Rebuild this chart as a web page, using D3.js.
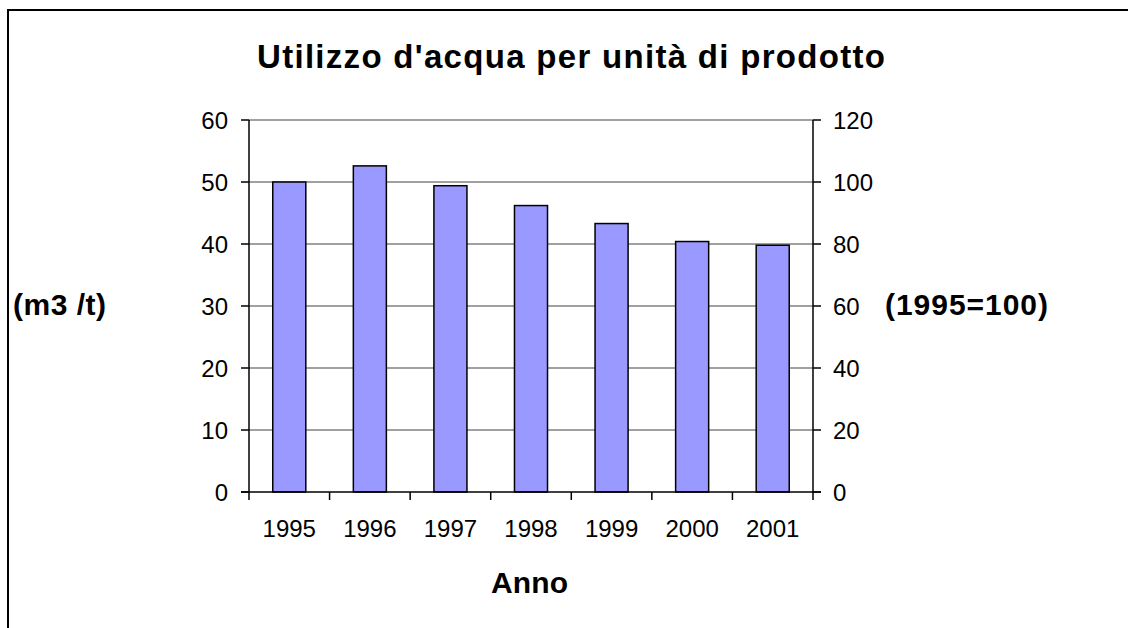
<!DOCTYPE html>
<html><head><meta charset="utf-8">
<script src="https://cdn.jsdelivr.net/npm/d3@7"></script>
<style>body{margin:0;background:#fff;} svg{display:block;font-family:"Liberation Sans",Arial,sans-serif;}</style>
</head><body>
<svg id="c" width="1128" height="628"></svg>
<script>
const years = ["1995","1996","1997","1998","1999","2000","2001"];
const values = [50, 52.6, 49.4, 46.2, 43.3, 40.4, 39.8];
const leftTicks = [0,10,20,30,40,50,60];
const rightTicks = [0,20,40,60,80,100,120];

const svg = d3.select("#c");
svg.append("rect").attr("x",8).attr("y",10).attr("width",1130).attr("height",630)
  .attr("fill","none").attr("stroke","#000").attr("stroke-width",2);

const L=249, R=813, T=120, B=492;
const x = d3.scaleBand().domain(years).range([L,R]).paddingInner(0.59).paddingOuter(0.295);
const y = d3.scaleLinear().domain([0,60]).range([B,T]);
const y2 = d3.scaleLinear().domain([0,120]).range([B,T]);

// gridlines
svg.append("g").selectAll("line").data(leftTicks.filter(d=>d>0)).join("line")
  .attr("x1",L).attr("x2",R).attr("y1",d=>y(d)).attr("y2",d=>y(d))
  .attr("stroke","#808080").attr("stroke-width",1.5);

// bars
svg.append("g").selectAll("rect").data(values).join("rect")
  .attr("x",(d,i)=>x(years[i])).attr("width",x.bandwidth())
  .attr("y",d=>y(d)).attr("height",d=>B-y(d))
  .attr("fill","#9999FF").attr("stroke","#000").attr("stroke-width",1.5);

// left axis
const ax = svg.append("g");
ax.append("line").attr("x1",L).attr("x2",L).attr("y1",T).attr("y2",B).attr("stroke","#000").attr("stroke-width",1.5);
ax.selectAll("line.t").data(leftTicks).join("line").attr("class","t")
  .attr("x1",L-8).attr("x2",L).attr("y1",d=>y(d)).attr("y2",d=>y(d)).attr("stroke","#000").attr("stroke-width",1.5);
ax.selectAll("text").data(leftTicks).join("text")
  .attr("x",L-21).attr("y",d=>y(d)+8.5).attr("text-anchor","end").attr("font-size",24).text(d=>d);

// right axis
const ar = svg.append("g");
ar.append("line").attr("x1",R).attr("x2",R).attr("y1",T).attr("y2",B).attr("stroke","#000").attr("stroke-width",1.5);
ar.selectAll("line.t").data(rightTicks).join("line").attr("class","t")
  .attr("x1",R).attr("x2",R+8).attr("y1",d=>y2(d)).attr("y2",d=>y2(d)).attr("stroke","#000").attr("stroke-width",1.5);
ar.selectAll("text").data(rightTicks).join("text")
  .attr("x",R+20).attr("y",d=>y2(d)+8.5).attr("text-anchor","start").attr("font-size",24).text(d=>d);

// bottom axis
const ab = svg.append("g");
ab.append("line").attr("x1",L-8).attr("x2",R+8).attr("y1",B).attr("y2",B).attr("stroke","#000").attr("stroke-width",1.5);
const step = (R-L)/years.length;
ab.selectAll("line.t").data(d3.range(years.length+1)).join("line").attr("class","t")
  .attr("x1",i=>L+i*step).attr("x2",i=>L+i*step).attr("y1",B).attr("y2",B+8).attr("stroke","#000").attr("stroke-width",1.5);
ab.selectAll("text").data(years).join("text")
  .attr("x",d=>x(d)+x.bandwidth()/2).attr("y",537).attr("text-anchor","middle").attr("font-size",24).text(d=>d);

// titles
svg.append("text").attr("x",257).attr("y",68).attr("font-size",33).attr("font-weight","bold")
  .attr("textLength",628).attr("lengthAdjust","spacing").text("Utilizzo d'acqua per unità di prodotto");
svg.append("text").attr("x",13).attr("y",315).attr("font-size",30).attr("font-weight","bold")
  .attr("textLength",93).attr("lengthAdjust","spacing").text("(m3 /t)");
svg.append("text").attr("x",885).attr("y",315).attr("font-size",30).attr("font-weight","bold")
  .attr("textLength",163).attr("lengthAdjust","spacing").text("(1995=100)");
svg.append("text").attr("x",491).attr("y",593).attr("font-size",30).attr("font-weight","bold")
  .attr("textLength",77).attr("lengthAdjust","spacing").text("Anno");
</script>
</body></html>
